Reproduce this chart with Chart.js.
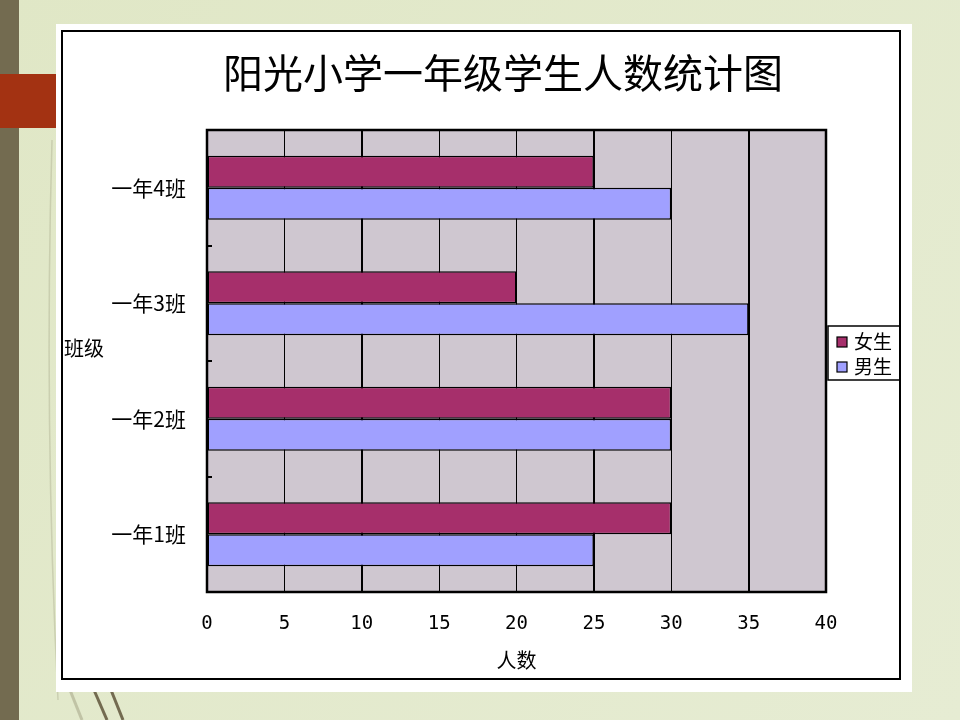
<!DOCTYPE html>
<html>
<head>
<meta charset="utf-8">
<script src="https://cdn.jsdelivr.net/npm/chart.js@4.4.0/dist/chart.umd.min.js"></script>
<style>
  html, body { margin: 0; padding: 0; background: #e2e9c9; }
  #wrap { width: 960px; height: 720px; }
</style>
</head>
<body>
<div id="wrap"><canvas id="myChart" width="960" height="720"></canvas></div>
<script>
const classNames = ["一年4班", "一年3班", "一年2班", "一年1班"];
const girls = [25, 20, 30, 30];
const boys = [30, 35, 30, 25];
const seriesNames = ["女生", "男生"];
const xTicks = [0, 5, 10, 15, 20, 25, 30, 35, 40];
const titleText = "阳光小学一年级学生人数统计图";
const xTitle = "人数";
const yTitle = "班级";

const cjk = "'Noto Sans CJK SC', 'Noto Sans', sans-serif";
const girlColor = "#a62f6b";
const boyColor = "#a0a0ff";

// slide background, white card and frame, plot fill
const slidePlugin = {
  id: "slide",
  beforeDraw(chart) {
    const c = chart.ctx;
    const area = chart.chartArea;
    c.save();
    const g = c.createLinearGradient(0, 0, 960, 720);
    g.addColorStop(0, "#e0e7c6");
    g.addColorStop(1, "#e6ecd3");
    c.fillStyle = g;
    c.fillRect(0, 0, 960, 720);

    // faint decorative strokes
    c.strokeStyle = "rgba(150,150,120,0.3)";
    c.lineWidth = 1.5;
    c.beginPath();
    c.moveTo(52, 140); c.quadraticCurveTo(44, 420, 58, 700);
    c.stroke();
    c.strokeStyle = "rgba(170,170,140,0.6)";
    c.lineWidth = 3;
    c.beginPath(); c.moveTo(70, 690); c.lineTo(82, 720); c.stroke();
    c.strokeStyle = "#736b50";
    c.lineWidth = 3;
    c.beginPath(); c.moveTo(94, 690); c.lineTo(107, 720); c.stroke();
    c.beginPath(); c.moveTo(111, 690); c.lineTo(123, 720); c.stroke();

    c.fillStyle = "#736b50";
    c.fillRect(0, 0, 19, 720);
    c.fillStyle = "#a33212";
    c.fillRect(0, 74, 56, 54);

    c.fillStyle = "#ffffff";
    c.fillRect(56, 24, 856, 668);
    c.strokeStyle = "#000000";
    c.lineWidth = 2;
    c.strokeRect(62, 31, 838, 648);

    c.fillStyle = "#cfc7d0";
    c.fillRect(area.left, area.top, area.right - area.left, area.bottom - area.top);
    c.restore();
  },
  afterDatasetsDraw(chart) {
    const c = chart.ctx;
    const area = chart.chartArea;
    const y = chart.scales.y;
    c.save();
    c.strokeStyle = "#000000";
    c.lineWidth = 2;
    // short inward ticks between classes
    const half = (y.getPixelForValue(1) - y.getPixelForValue(0)) / 2;
    for (let i = 1; i < classNames.length; i++) {
      const py = Math.round(y.getPixelForValue(i) - half);
      c.beginPath();
      c.moveTo(area.left, py);
      c.lineTo(area.left + 5, py);
      c.stroke();
    }
    c.lineWidth = 2.5;
    c.strokeRect(area.left, area.top, area.right - area.left, area.bottom - area.top);
    c.restore();
  },
  afterDraw(chart) {
    const c = chart.ctx;
    c.save();
    c.fillStyle = "#000000";
    c.textBaseline = "middle";
    c.textAlign = "center";
    c.font = "40px " + cjk;
    c.fillText(titleText, 503, 73);

    c.font = "20px " + cjk;
    c.fillText(yTitle, 84, 348);

    // legend
    c.strokeStyle = "#000000";
    c.lineWidth = 1.5;
    c.strokeRect(828, 326, 72, 54);
    c.textAlign = "left";
    c.font = "19px " + cjk;
    chart.data.datasets.forEach((ds, i) => {
      const cy = 342 + i * 25;
      c.fillStyle = ds.backgroundColor;
      c.fillRect(837, cy - 5, 10, 10);
      c.lineWidth = 1.2;
      c.strokeRect(837, cy - 5, 10, 10);
      c.fillStyle = "#000000";
      c.fillText(ds.label, 854, cy);
    });
    c.restore();
  }
};

const ctx = document.getElementById("myChart").getContext("2d");
const chart = new Chart(ctx, {
  type: "bar",
  data: {
    labels: classNames,
    datasets: [
      {
        label: seriesNames[0],
        data: girls,
        backgroundColor: girlColor,
        borderColor: "#000000",
        borderWidth: 1.5,
        borderSkipped: false,
        barPercentage: 1,
        categoryPercentage: 0.554
      },
      {
        label: seriesNames[1],
        data: boys,
        backgroundColor: boyColor,
        borderColor: "#000000",
        borderWidth: 1.5,
        borderSkipped: false,
        barPercentage: 1,
        categoryPercentage: 0.554
      }
    ]
  },
  options: {
    indexAxis: "y",
    responsive: false,
    animation: false,
    layout: { padding: { left: 0, right: 134, top: 130, bottom: 44 } },
    plugins: {
      legend: { display: false },
      title: { display: false },
      tooltip: { enabled: false }
    },
    scales: {
      x: {
        min: 0,
        max: 40,
        afterBuildTicks: scale => { scale.ticks = xTicks.map(v => ({ value: v })); },
        afterFit: scale => { scale.height = 84; },
        border: { display: false },
        grid: {
          color: "#000000",
          drawTicks: false,
          lineWidth: c => [10, 25, 35].includes(c.tick && c.tick.value) ? 2 : 1
        },
        ticks: {
          color: "#000000",
          padding: 21,
          font: { family: "'DejaVu Sans Mono', monospace", size: 19 }
        },
        title: {
          display: true,
          text: xTitle,
          color: "#000000",
          font: { family: cjk, size: 20 },
          padding: { top: 4, bottom: 4 }
        }
      },
      y: {
        offset: true,
        afterFit: scale => { scale.width = 207; },
        border: { display: false },
        grid: { display: false },
        ticks: {
          color: "#000000",
          padding: 13,
          font: { family: cjk, size: 21 }
        }
      }
    }
  },
  plugins: [slidePlugin]
});
</script>
</body>
</html>
